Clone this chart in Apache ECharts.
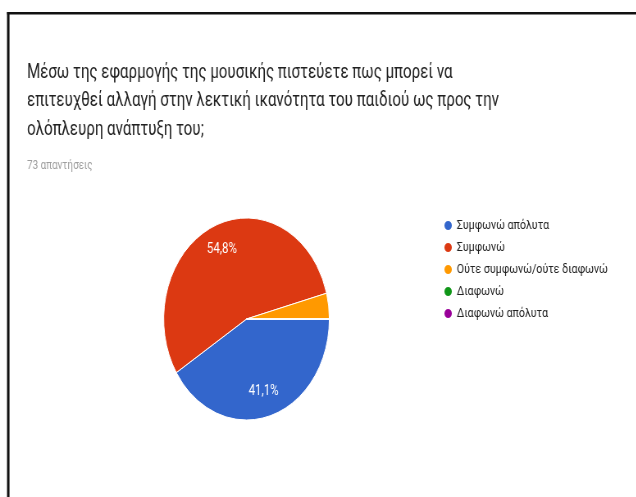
<!DOCTYPE html>
<html>
<head>
<meta charset="utf-8">
<script src="https://cdn.jsdelivr.net/npm/echarts@6/dist/echarts.min.js"></script>
<style>
  html, body { margin: 0; padding: 0; background: #fff; }
  #wrap { position: relative; width: 636px; height: 497px; overflow: hidden; background: #fff; }
  #chart { position: absolute; left: 0; top: 0; width: 776px; height: 497px; transform: scaleX(0.82); transform-origin: 0 0; }
</style>
</head>
<body>
<div id="wrap"><div id="chart"></div></div>
<script>
const titleLines = [
  "Μέσω της εφαρμογής της μουσικής πιστεύετε πως μπορεί να",
  "επιτευχθεί αλλαγή στην λεκτική ικανότητα του παιδιού ως προς την",
  "ολόπλευρη ανάπτυξη του;"
];
const responsesText = "73 απαντήσεις";
const categories = ["Συμφωνώ απόλυτα", "Συμφωνώ", "Ούτε συμφωνώ/ούτε διαφωνώ", "Διαφωνώ", "Διαφωνώ απόλυτα"];
const counts = [30, 40, 3, 0, 0];
const colors = ["#3366CC", "#DC3912", "#FF9900", "#109618", "#990099"];

const SX = 0.82;
const chart = echarts.init(document.getElementById('chart'));
const data = categories.map((c, i) => ({ name: c, value: counts[i] }));

chart.setOption({
  animation: false,
  color: colors,
  title: [
    {
      text: responsesText,
      left: 28, top: 155,
      textStyle: { fontFamily: 'Roboto', fontSize: 12, fontWeight: 'normal', color: '#9e9e9e' }
    }
  ],
  legend: {
    orient: 'vertical',
    left: 535, top: 214,
    icon: 'circle',
    itemWidth: 11, itemHeight: 11,
    itemGap: 9,
    textStyle: { fontFamily: 'Roboto', fontSize: 13, color: '#222' },
    data: categories
  },
  graphic: [
    { type: 'rect', shape: { x: 7 / SX, y: 12, width: 800, height: 2.5 }, style: { fill: '#111' } },
    { type: 'rect', shape: { x: 7 / SX, y: 12, width: 2.5 / SX, height: 500 }, style: { fill: '#111' } },
    {
      type: 'text', x: 33, y: 58, scaleX: 0.875,
      style: {
        text: titleLines.join('\n'),
        fontFamily: 'Roboto', fontSize: 21, lineHeight: 28.5,
        fill: '#212121'
      }
    }
  ],
  series: [
    {
      type: 'pie',
      center: [246.5 / SX, 319],
      radius: 101,
      startAngle: 0,
      clockwise: true,
      percentPrecision: 1,
      itemStyle: { borderColor: '#fff', borderWidth: 1 },
      label: { show: false },
      labelLine: { show: false },
      emphasis: { disabled: true },
      data: data
    },
    {
      type: 'pie',
      center: [246.5 / SX, 319],
      radius: [44, 101],
      startAngle: 0,
      clockwise: true,
      silent: true,
      percentPrecision: 1,
      itemStyle: { color: 'rgba(0,0,0,0)', borderWidth: 0 },
      labelLine: { show: false },
      emphasis: { disabled: true },
      label: {
        show: true,
        position: 'inside',
        fontFamily: 'Roboto',
        fontSize: 14,
        color: '#fff',
        formatter: function (p) {
          return p.percent >= 5 ? (p.percent.toFixed(1).replace('.', ',') + '%') : '';
        }
      },
      data: data
    }
  ]
});
</script>
</body>
</html>
